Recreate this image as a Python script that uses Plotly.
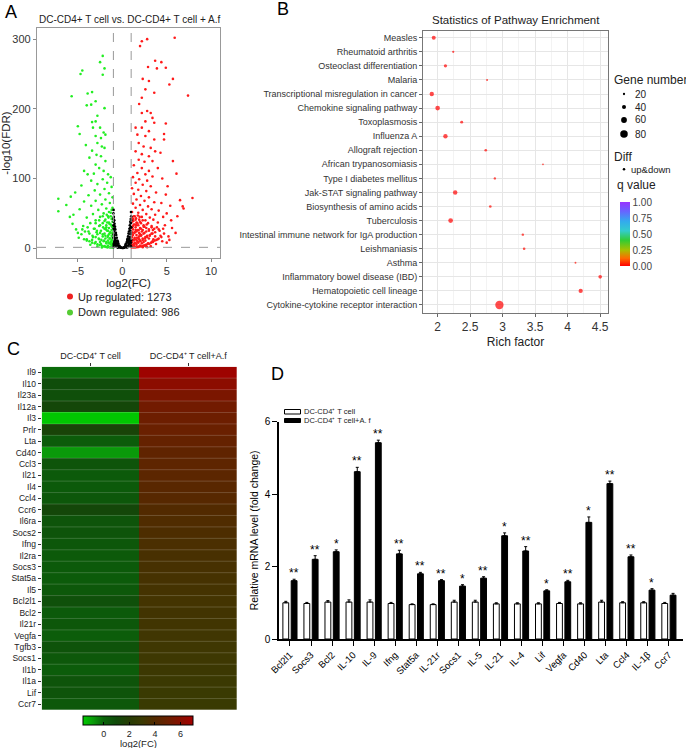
import math
import plotly.graph_objects as go

W, H = 686, 748
FONT = "Arial, Liberation Sans, sans-serif"

# ---------------- panel A: volcano plot ----------------
up_count = 1273
down_count = 986
fc_cut = 1
fdr_cut = 0.05

up_x = [5.9, 2.2, 2.8, 2.0, 3.7, 4.4, 2.9, 3.9, 4.9, 2.3, 5.7, 3.0, 5.3, 7.4, 2.6, 3.6, 2.2, 1.9, 2.8, 3.2,
        2.2, 3.4, 4.9, 2.6, 3.6, 1.5, 2.2, 3.0, 4.7, 1.7, 2.6, 3.6, 4.7, 1.85, 2.4, 3.2, 1.5, 2.2, 3.7, 4.3,
        3.0, 1.85, 2.5, 3.4, 5.7, 1.3, 2.2, 3.0, 4.0, 1.7, 6.1, 2.6,
        1.2, 1.9, 3.4, 2.8, 4.5, 1.5, 2.3, 3.2, 5.1, 1.1, 1.8, 2.7, 3.8, 1.3, 4.9, 2.1, 3.0, 7.9, 6.5, 1.6,
        2.5, 3.6, 4.4, 1.2, 2.0, 2.9, 6.8, 5.4, 1.5, 3.3, 6.9, 2.3, 4.1, 1.1, 1.8, 2.7, 3.7, 5.0, 1.4, 2.2,
        3.1, 4.6, 6.2, 1.2, 1.9, 2.6, 3.5, 5.5,
        1.1, 1.6, 2.1, 2.9, 4.0, 1.3, 1.8, 2.4, 3.3, 4.8, 1.1, 1.5, 2.0, 2.7, 3.6, 5.6, 1.2, 1.7, 2.3, 3.0,
        4.2, 1.1, 1.4, 1.9, 2.5, 3.3, 4.7, 6.0, 1.2, 1.6, 2.1, 2.8, 3.7, 5.2, 1.1, 1.4, 1.8, 2.3, 3.0, 4.0,
        1.2, 1.6, 2.0, 2.6, 3.4, 4.5, 1.1, 1.4, 1.8, 2.2, 2.9, 3.8, 1.2, 1.6, 2.0, 2.5, 3.2, 1.1, 1.4, 1.8,
        2.3, 2.8, 1.3, 1.5, 2.6, 3.5, 2.4, 1.7, 3.1, 2.0, 1.3, 1.9, 2.7, 4.3, 5.0, 1.6, 2.2, 3.9, 2.5,
        1.05, 1.25, 1.45, 1.65, 1.85, 2.05, 2.25, 2.45, 2.65, 2.85, 3.05, 3.25, 3.45, 3.65, 3.85, 4.1, 4.4,
        1.05, 1.3, 1.55, 1.8, 2.05, 2.3, 2.55, 2.8, 3.1, 3.4, 3.7, 4.1, 1.15, 1.4, 1.65, 1.9, 2.15, 2.4,
        2.7, 3.0, 3.3, 1.1, 1.35, 1.6, 1.85, 2.1, 2.4, 2.75, 1.2, 1.45, 1.7, 2.0, 2.3, 1.1, 1.3, 1.55,
        1.75, 1.95, 1.25, 1.5, 3.45, 4.6, 5.3]
up_y = [302, 297, 300, 290, 269, 267, 260, 258, 259, 243, 243, 240, 235, 219, 228, 223, 216, 207, 197, 194,
        194, 187, 179, 182, 180, 173, 173, 168, 164, 163, 161, 156, 156, 151, 146, 144, 139, 135, 139, 137,
        132, 127, 124, 125, 125, 119, 115, 111, 115, 108, 107, 106,
        102, 99, 103, 97, 100, 94, 91, 89, 89, 86, 84, 82, 80, 78, 77, 75, 73, 72, 69, 70,
        68, 66, 65, 64, 62, 60, 60, 61, 58, 56, 57, 55, 54, 52, 51, 49, 48, 50, 46, 45,
        44, 45, 46, 42, 41, 40, 41, 40,
        38, 37, 36, 36, 37, 34, 33, 33, 32, 33, 30, 30, 29, 29, 28, 29, 27, 26, 26, 25,
        25, 23, 23, 22, 22, 21, 21, 22, 19, 19, 18, 18, 17, 17, 16, 15, 15, 14, 14, 13,
        12, 12, 11, 11, 10, 10, 9, 8, 8, 7, 7, 6, 5, 5, 4, 4, 3, 2, 2, 2,
        1.5, 1.5, 12, 26, 16, 13, 9, 10, 18, 20, 3.5, 13, 3, 18, 8, 33, 24, 30, 31,
        1, 1, 1.2, 1.5, 2, 2.5, 3, 4, 5, 6, 6.5, 8, 9, 11, 12, 14, 16,
        5, 6, 7, 9, 10, 12, 14, 16, 19, 21, 23, 27, 11, 13, 15, 17, 19, 21,
        24, 27, 30, 20, 22, 24, 26, 28, 31, 34, 32, 34, 36, 38, 40, 44, 46, 43,
        47, 45, 39, 41, 26, 28, 12]

down_x = [-2.2, -2.5, -2.0, -4.5, -4.7, -2.2, -5.7, -3.9, -3.4, -3.0, -4.0, -3.5, -2.0, -2.8, -3.0, -5.0,
          -3.4, -3.3, -2.5, -4.8, -2.1, -3.0, -2.4, -1.9, -4.1, -2.8, -2.3, -3.4, -2.0, -2.9, -3.7, -2.4,
          -1.9, -3.0, -4.3, -2.6, -2.1, -3.9, -3.2, -1.6,
          -1.3, -2.2, -3.5, -1.7, -2.8, -4.6, -1.2, -2.0, -3.1, -5.3, -1.5, -2.5, -3.8, -5.8, -7.2, -1.1,
          -1.9, -3.0, -4.3, -1.4, -2.3, -6.3, -3.5, -1.1, -1.8, -2.7, -4.8, -7.2, -1.3, -2.1, -3.3, -5.5,
          -1.6, -2.5, -4.0, -5.9, -1.2, -1.9, -3.0,
          -1.1, -1.5, -2.2, -3.6, -1.3, -1.8, -2.6, -4.4, -1.1, -1.5, -2.0, -3.1, -5.2, -1.2, -1.7, -2.4,
          -3.8, -1.1, -1.4, -2.0, -2.8, -4.6, -1.2, -1.6, -2.2, -3.3, -1.1, -1.4, -1.9, -2.6, -4.0, -1.2,
          -1.6, -2.1, -3.0, -1.1, -1.4, -1.8, -2.4, -3.6, -1.2, -1.6, -2.0, -2.8, -1.3, -1.7, -2.3, -1.5,
          -2.5, -1.8, -3.4, -2.9, -1.3, -5.6, -4.9,
          -1.05, -1.25, -1.45, -1.65, -1.85, -2.05, -2.3, -2.55, -2.8, -3.1, -3.4, -3.7, -4.0, -4.3, -1.05,
          -1.3, -1.55, -1.8, -2.05, -2.35, -2.65, -3.0, -3.35, -3.7, -4.2, -1.15, -1.4, -1.65, -1.9, -2.2,
          -2.5, -2.85, -3.2, -1.1, -1.35, -1.6, -1.85, -2.15, -2.5, -1.2, -1.45, -1.7, -2.0, -1.1, -1.3,
          -1.55, -1.75, -2.6, -3.9, -4.5, -5.0, -3.0, -2.2, -1.5, -1.2]
down_y = [276, 267, 258, 255, 250, 249, 218, 222, 224, 211, 205, 206, 201, 190, 182, 175,
          181, 173, 173, 164, 166, 161, 158, 163, 148, 151, 146, 140, 144, 134, 130, 132,
          125, 120, 111, 115, 111, 106, 107, 106,
          102, 99, 97, 94, 92, 90, 88, 85, 83, 80, 79, 77, 76, 74, 71, 73,
          70, 68, 67, 65, 63, 62, 61, 58, 57, 55, 56, 53, 51, 50, 49, 48,
          46, 45, 44, 45, 42, 41, 40,
          38, 37, 36, 36, 34, 33, 32, 32, 30, 29, 28, 28, 27, 26, 25, 25,
          24, 22, 22, 21, 20, 20, 18, 18, 17, 16, 15, 14, 14, 13, 13, 11,
          11, 10, 9, 8, 7, 7, 6, 5, 4, 4, 3, 2.5, 1.5, 1.5, 1.2, 20,
          9, 30, 12, 23, 9, 35, 15,
          1, 1.1, 1.3, 1.6, 2, 2.5, 3.5, 4.5, 5.5, 7, 8, 10, 11, 13, 5,
          6, 8, 9, 11, 12, 14, 16, 18, 21, 24, 12, 14, 16, 18, 20,
          22, 25, 28, 21, 23, 25, 27, 30, 33, 32, 35, 37, 39, 43, 46,
          44, 48, 40, 30, 27, 22, 36, 46, 52, 55]

ns_x = [0.0, 0.1, -0.1, 0.2, -0.2, 0.3, -0.3, 0.35, -0.35, 0.4, -0.45, 0.5, -0.5, 0.55, -0.55, 0.6,
        -0.62, 0.65, -0.68, 0.7, -0.72, 0.75, -0.78, 0.8, -0.82, 0.85, -0.87, 0.9, -0.9, 0.95, -0.95,
        1.0, -1.0, 0.97, -0.98, 0.92, -0.93, 0.88, -0.88, 0.8, -0.8, 0.7, -0.7, 0.6, -0.6, 0.5, -0.5,
        0.98, -0.97, 0.99, -0.99, 0.75, -0.75, 0.9, -0.92, 0.85, -0.85, 0.65, -0.65, 0.96, -0.96,
        -1.0, 1.0, 0.4, -0.4, 0.25, -0.25,
        0.95, -0.95, 0.9, -0.9, 0.85, -0.85, 0.8, -0.8, 0.75, -0.75, 1.0, -1.0, 0.97, -0.97, 0.93,
        -0.93, 0.88, -0.88, 0.98, -0.98, 0.55, -0.55, 0.45, -0.45, 0.15, -0.15, 0.7, -0.7, 1.0, -1.0]
ns_y = [0.3, 0.5, 0.6, 1.5, 1.4, 2.5, 2.8, 4.5, 4.0, 6.5, 7, 9, 9.5, 12, 11, 14,
        15, 17, 19, 21, 22, 24, 27, 28, 31, 33, 35, 38, 40, 42, 45,
        46, 50, 30, 28, 20, 18, 12, 10, 6, 5, 3, 3, 1.5, 1.8, 1, 0.8,
        8, 6, 2, 1.5, 12, 10, 25, 24, 16, 15, 8, 7, 36, 38,
        42, 40, 2, 2, 0.8, 0.9,
        4, 4, 9, 8, 11, 12, 14, 13, 6, 7, 12, 15, 22, 20, 30,
        32, 25, 27, 52, 55, 4, 5, 3, 3.5, 0.8, 0.9, 9, 10, 30, 33]

# ---------------- panel B: KEGG enrichment ----------------
pathways = ["Measles", "Rheumatoid arthritis", "Osteoclast differentiation", "Malaria",
            "Transcriptional misregulation in cancer", "Chemokine signaling pathway", "Toxoplasmosis",
            "Influenza A", "Allograft rejection", "African trypanosomiasis", "Type I diabetes mellitus",
            "Jak-STAT signaling pathway", "Biosynthesis of amino acids", "Tuberculosis",
            "Intestinal immune network for IgA production", "Leishmaniasis", "Asthma",
            "Inflammatory bowel disease (IBD)", "Hematopoietic cell lineage",
            "Cytokine-cytokine receptor interaction"]
rich_factor = [1.94, 2.24, 2.12, 2.76, 1.91, 2.00, 2.37, 2.12, 2.74, 3.62, 2.88, 2.27, 2.81, 2.20,
               3.31, 3.33, 4.12, 4.50, 4.20, 2.95]
gene_number = [40, 20, 32, 17, 44, 47, 28, 44, 25, 14, 21, 45, 24, 48, 22, 24, 16, 36, 43, 89]
q_value = [0.000, 0.003, 0.001, 0.008, 0.000, 0.000, 0.004, 0.001, 0.006, 0.012, 0.009, 0.000,
           0.010, 0.000, 0.011, 0.010, 0.015, 0.002, 0.000, 0.000]
size_legend = [20, 40, 60, 80]

# ---------------- panel C: heatmap ----------------
genes = ["Il9", "Il10", "Il23a", "Il12a", "Il3", "Prlr", "Lta", "Cd40", "Ccl3", "Il21", "Il4", "Ccl4",
         "Ccr6", "Il6ra", "Socs2", "Ifng", "Il2ra", "Socs3", "Stat5a", "Il5", "Bcl2l1", "Bcl2", "Il21r",
         "Vegfa", "Tgfb3", "Socs1", "Il1b", "Il1a", "Lif", "Ccr7"]
heat_cols = ["DC-CD4⁺ T cell", "DC-CD4⁺ T cell+A.f"]
ctrl_log2fc = [-0.1, 0.9, 0.8, 1.2, -1.5, 1.4, 0.3, -0.8, 0.6, 0.4, 0.4, 0.5, 1.2, 0.6, 0.6, 0.5, 0.4,
               0.4, 0.35, 0.45, 0.75, 0.4, 0.5, 0.25, 0.65, 0.45, 0.3, 0.6, 0.6, 0.45]
af_log2fc = [6.8, 6.2, 5.6, 5.3, 5.1, 5.0, 4.8, 4.6, 4.5, 4.4, 4.3, 4.2, 4.0, 3.9, 3.8, 3.7, 3.6,
             3.55, 3.5, 3.45, 3.4, 3.35, 3.3, 3.25, 3.2, 3.15, 3.1, 3.05, 3.0, 2.95]

# ---------------- panel D: qPCR ----------------
qpcr_genes = ["Bcl2l1", "Socs3", "Bcl2", "IL-10", "IL-9", "Ifng", "Stat5a", "IL-21r", "Socs1", "IL-5",
              "IL-21", "IL-4", "Lif", "Vegfa", "Cd40", "Lta", "Ccl4", "IL-1β", "Ccr7"]
ctrl_mean = [1.0, 0.98, 1.02, 1.02, 1.02, 0.98, 0.95, 0.95, 1.02, 1.02, 0.97, 0.97, 0.97, 0.98, 0.97,
             1.02, 1.0, 1.0, 0.98]
ctrl_err = [0.04, 0.03, 0.04, 0.06, 0.06, 0.03, 0.02, 0.02, 0.05, 0.05, 0.03, 0.03, 0.03, 0.03, 0.03,
            0.05, 0.03, 0.03, 0.03]
af_mean = [1.61, 2.2, 2.41, 4.62, 5.42, 2.35, 1.80, 1.61, 1.46, 1.68, 2.85, 2.43, 1.33, 1.58, 3.22,
           4.29, 2.27, 1.35, 1.21]
af_err = [0.04, 0.1, 0.05, 0.12, 0.07, 0.1, 0.04, 0.03, 0.04, 0.04, 0.08, 0.12, 0.03, 0.04, 0.15,
          0.07, 0.05, 0.04, 0.05]
signif = ["**", "**", "*", "**", "**", "**", "**", "**", "*", "**", "*", "**", "*", "**", "*", "**",
          "**", "*", ""]


def xp(v):
    return v / W


def yp(v):
    return 1 - v / H


def gene_size(n):
    # point diameter in px for a gene count
    return 0.5 + 0.088 * n


q_scale = [[0, '#ff0000'], [0.12, '#ff6a00'], [0.25, '#a8c000'], [0.4, '#33cc33'],
           [0.55, '#33cccc'], [0.7, '#33aaee'], [0.85, '#6666ff'], [1, '#9933ff']]
fc_scale = [[0, '#00cc00'], [0.093, '#0a9a0a'], [0.186, '#0a640a'], [0.302, '#104a0a'],
            [0.419, '#263c05'], [0.535, '#3a3a02'], [0.651, '#522a00'], [0.767, '#6a2000'],
            [0.884, '#861000'], [1, '#a40000']]

fig = go.Figure()

# A
fig.add_trace(go.Scatter(x=down_x, y=down_y, mode='markers', xaxis='x', yaxis='y',
                         marker=dict(color='#22ee22', size=2.6), hoverinfo='skip'))
fig.add_trace(go.Scatter(x=up_x, y=up_y, mode='markers', xaxis='x', yaxis='y',
                         marker=dict(color='#ff1a1a', size=2.6), hoverinfo='skip'))
fig.add_trace(go.Scatter(x=ns_x, y=ns_y, mode='markers', xaxis='x', yaxis='y',
                         marker=dict(color='black', size=2.6), hoverinfo='skip'))
for xv in (-fc_cut, fc_cut):
    fig.add_shape(type='line', xref='x', yref='y domain', x0=xv, x1=xv, y0=0, y1=1,
                  line=dict(color='#999', width=1, dash='dash'))
fig.add_shape(type='line', xref='x domain', yref='y', x0=0, x1=1,
              y0=-math.log10(fdr_cut), y1=-math.log10(fdr_cut),
              line=dict(color='#999', width=1, dash='dash'))

# B
fig.add_trace(go.Scatter(
    x=rich_factor, y=pathways, mode='markers', xaxis='x2', yaxis='y2', hoverinfo='skip',
    marker=dict(size=[gene_size(n) for n in gene_number], color=q_value, cmin=0, cmax=1,
                colorscale=q_scale, line=dict(width=0), showscale=True,
                colorbar=dict(x=xp(620), xanchor='left', y=yp(202), yanchor='top',
                              len=64, lenmode='pixels', thickness=10, thicknessmode='pixels',
                              xpad=0, ypad=0, outlinewidth=0, ticks='',
                              tickvals=[0, 0.25, 0.5, 0.75, 1],
                              ticktext=['0.00', '0.25', '0.50', '0.75', '1.00'],
                              tickfont=dict(size=10, color='#444')))))

# C
fig.add_trace(go.Heatmap(
    z=[[c, a] for c, a in zip(ctrl_log2fc, af_log2fc)], x=heat_cols, y=genes,
    xaxis='x3', yaxis='y3', colorscale=fc_scale, zmin=-1.6, zmax=7.0, hoverinfo='skip',
    colorbar=dict(orientation='h', x=xp(138.3), xanchor='center', y=yp(715.5), yanchor='top',
                  len=110, lenmode='pixels', thickness=9, thicknessmode='pixels',
                  xpad=0, ypad=0, outlinecolor='black', outlinewidth=1,
                  tickvals=[0, 2, 4, 6], ticks='inside', ticklen=3, tickcolor='black',
                  tickfont=dict(size=9, color='#222'))))
for i in range(len(genes) - 1):
    fig.add_shape(type='line', xref='x3 domain', yref='y3', x0=0, x1=1, y0=i + 0.5, y1=i + 0.5,
                  line=dict(color='rgba(255,255,255,0.18)', width=1))

# D
fig.add_trace(go.Bar(x=qpcr_genes, y=ctrl_mean, xaxis='x4', yaxis='y4', hoverinfo='skip',
                     marker=dict(color='white', line=dict(color='black', width=1)),
                     error_y=dict(type='data', symmetric=False, array=ctrl_err,
                                  arrayminus=[0] * len(ctrl_err), color='black',
                                  thickness=1, width=1.5)))
fig.add_trace(go.Bar(x=qpcr_genes, y=af_mean, xaxis='x4', yaxis='y4', hoverinfo='skip',
                     marker=dict(color='black', line=dict(color='black', width=1)),
                     error_y=dict(type='data', symmetric=False, array=af_err,
                                  arrayminus=[0] * len(af_err), color='black',
                                  thickness=1, width=1.5)))

ann = []
shapes = []


def text(x, y, s, size, xanchor='left', color='#222', **kw):
    ann.append(dict(x=xp(x), y=yp(y), xref='paper', yref='paper', text=s, showarrow=False,
                    xanchor=xanchor, yanchor='middle', font=dict(size=size, color=color), **kw))


def dot(cx, cy, d, color):
    shapes.append(dict(type='circle', xref='paper', yref='paper', x0=xp(cx - d / 2), x1=xp(cx + d / 2),
                       y0=yp(cy + d / 2), y1=yp(cy - d / 2), fillcolor=color, line=dict(width=0)))


def box(x0, y0, x1, y1, fill):
    shapes.append(dict(type='rect', xref='paper', yref='paper', x0=xp(x0), x1=xp(x1),
                       y0=yp(y1), y1=yp(y0), fillcolor=fill, line=dict(color='black', width=1)))


# panel letters
text(3, 12, 'A', 18, color='black')
text(275, 9, 'B', 18, color='black')
text(5, 349, 'C', 18, color='black')
text(269, 374, 'D', 18, color='black')

# A annotations / legend
text(129, 20, 'DC-CD4+ T cell vs. DC-CD4+ T cell + A.f', 10, xanchor='center')
dot(70, 296.5, 6, '#ee2222')
dot(70, 312.5, 6, '#55cc33')
text(76, 296.5, 'Up regulated: %d' % up_count, 11)
text(76, 312.5, 'Down regulated: %d' % down_count, 11)

# B annotations / legend
text(516, 20, 'Statistics of Pathway Enrichment', 11.5, xanchor='center')
text(612, 80, 'Gene number', 12)
for n, yy in zip(size_legend, [94, 107, 120, 134]):
    dot(624, yy, gene_size(n), 'black')
    text(633, yy, str(n), 10)
text(612, 157, 'Diff', 12)
dot(624, 169.3, 2.5, 'black')
text(629, 169.3, 'up&down', 9.5)
text(615, 185, 'q value', 12)

# C annotations
text(138.3, 743, 'log2(FC)', 9.5, xanchor='center')

# D annotations / legend
box(284.5, 409.5, 300.5, 414, 'white')
box(284.5, 418.5, 300.5, 422.5, 'black')
text(302, 411.5, heat_cols[0], 7.5)
text(302, 420.5, 'DC-CD4⁺ T cell+A. f', 7.5)
for g, m, e, s in zip(qpcr_genes, af_mean, af_err, signif):
    if s:
        ann.append(dict(x=g, y=m + e, xref='x4', yref='y4', text=s, showarrow=False,
                        xanchor='center', yanchor='bottom', xshift=4, yshift=-3,
                        font=dict(size=12, color='black')))

axis_a = dict(ticks='outside', ticklen=3, tickcolor='#888', showline=True, mirror=True,
              linecolor='#999', linewidth=1.2, showgrid=False, zeroline=False, automargin=False,
              tickfont=dict(size=11, color='#333'))
axis_b = dict(ticks='outside', ticklen=3, tickcolor='#666', showline=True, mirror=True,
              linecolor='#777', linewidth=1, showgrid=True, gridcolor='#e6e6e6', zeroline=False,
              automargin=False)

fig.update_layout(
    width=W, height=H, margin=dict(l=0, r=0, t=0, b=0, autoexpand=False),
    paper_bgcolor='white', plot_bgcolor='white',
    font=dict(family=FONT, color='#222'),
    showlegend=False, barmode='group', bargap=0.21, bargroupgap=0.3,
    xaxis=dict(domain=[xp(37), xp(220)], anchor='y', range=[-9.6, 11], tickvals=[-5, 0, 5, 10],
               title=dict(text='log2(FC)', font=dict(size=11.5), standoff=2), **axis_a),
    yaxis=dict(domain=[yp(258), yp(28)], anchor='x', range=[-14, 316], tickvals=[0, 100, 200, 300],
               title=dict(text='-log10(FDR)', font=dict(size=11.5), standoff=2), **axis_a),
    xaxis2=dict(domain=[xp(423), xp(608)], anchor='y2', range=[1.775, 4.62],
                tickvals=[2, 2.5, 3, 3.5, 4, 4.5], ticktext=['2', '2.5', '3', '3.5', '4', '4.5'],
                minor=dict(dtick=0.25, tick0=2, showgrid=True, gridcolor='#f3f3f3'),
                tickfont=dict(size=12, color='#333'),
                title=dict(text='Rich factor', font=dict(size=12), standoff=4), **axis_b),
    yaxis2=dict(domain=[yp(313), yp(30.7)], anchor='x2', type='category',
                categoryorder='array', categoryarray=pathways, range=[19.57, -0.5],
                tickfont=dict(size=9, color='#333'), **axis_b),
    xaxis3=dict(domain=[xp(41.7), xp(237)], anchor='y3', side='top', ticks='outside', ticklen=3,
                tickcolor='#333', showline=False, showgrid=False, zeroline=False, automargin=False,
                tickfont=dict(size=9, color='#222')),
    yaxis3=dict(domain=[yp(710), yp(366.7)], anchor='x3', autorange='reversed', ticks='outside',
                ticklen=3, tickcolor='#333', showline=False, showgrid=False, zeroline=False,
                automargin=False, tickfont=dict(size=8.5, color='#222')),
    xaxis4=dict(domain=[xp(279), xp(683)], anchor='y4', range=[-0.52, 18.67], tickangle=-45,
                ticks='outside', ticklen=5, tickcolor='black', showline=True, linecolor='black',
                linewidth=1.5, showgrid=False, zeroline=False, automargin=False,
                tickfont=dict(size=9.5, color='black')),
    yaxis4=dict(domain=[yp(639), yp(421.7)], anchor='x4', range=[0, 6], tickvals=[0, 2, 4, 6],
                ticks='outside', ticklen=5, tickcolor='black', showline=True, linecolor='black',
                linewidth=1.5, showgrid=False, zeroline=False, automargin=False,
                tickfont=dict(size=10, color='black'),
                title=dict(text='Relative mRNA level (fold change)', font=dict(size=10.5, color='black'),
                           standoff=4)),
    annotations=ann,
)
for s in shapes:
    fig.add_shape(**s)

# the page body has a default 8px margin; drop it so the figure sits at the window origin
fig.write_html("out.html", config={'displayModeBar': False},
               post_script="document.body.style.margin='0';")
